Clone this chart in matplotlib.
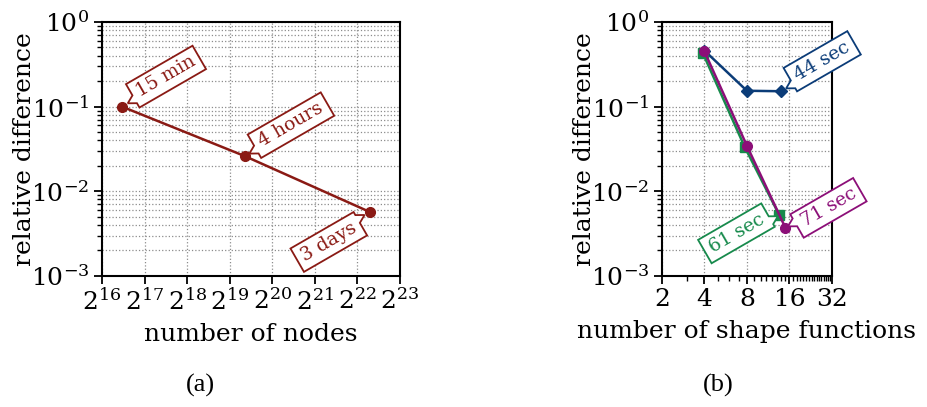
"""Relative difference vs. resolution, two panels with rotated callouts."""
import numpy as np
import matplotlib
matplotlib.use('Agg')
import matplotlib.pyplot as plt
from matplotlib.patches import Polygon
from matplotlib.textpath import TextPath
from matplotlib.font_manager import FontProperties
from matplotlib.transforms import Affine2D, ScaledTranslation
from matplotlib.ticker import FixedLocator, LogLocator, NullLocator, FuncFormatter

plt.rcParams['font.family'] = ['DejaVu Serif']
plt.rcParams['mathtext.fontset'] = 'dejavuserif'

# panel (a): mesh refinement
nodes = [90800, 672000, 5130000]
err_nodes = [0.100, 0.026, 0.0057]
time_nodes = ['15 min', '4 hours', '3 days']

# panel (b): shape functions
shape_blue = [4, 8, 14]
err_blue = [0.46, 0.154, 0.152]
shape_green = [3.9, 7.7, 13.6]
err_green = [0.43, 0.0337, 0.0052]
shape_purple = [4, 8, 15]
err_purple = [0.45, 0.0345, 0.0037]
time_shape = ['44 sec', '61 sec', '71 sec']

red = '#8a1a14'
blue = '#0b3c78'
green = '#178a4c'
purple = '#8c0f78'

DPI = 100
ANGLE = 30
CALLOUT_FS = 13.5


def callout(ax, x, y, text, color, dx, dy):
    """Rotated box at pixel offset (dx, dy) from (x, y), with a small tail."""
    tw = TextPath((0, 0), text, size=CALLOUT_FS,
                  prop=FontProperties(family='DejaVu Serif')).get_extents().width
    w = tw * DPI / 72 + 14
    h = 27
    # data point in the box's own (rotated) frame
    th = np.deg2rad(ANGLE)
    pu = -dx * np.cos(th) - dy * np.sin(th)
    pv = dx * np.sin(th) - dy * np.cos(th)
    side = -1 if pu < 0 else 1
    ex = side * w / 2
    bv = np.clip(pv, -h / 2 + 6, h / 2 - 6)
    vec = np.array([pu - ex, pv - bv])
    tip = tuple(np.array([ex, bv]) + 8 * vec / np.hypot(*vec))
    bl, br, tr, tl = (-w / 2, -h / 2), (w / 2, -h / 2), (w / 2, h / 2), (-w / 2, h / 2)
    if side < 0:
        verts = [bl, br, tr, tl, (ex, bv + 4.5), tip, (ex, bv - 4.5)]
    else:
        verts = [bl, br, (ex, bv - 4.5), tip, (ex, bv + 4.5), tr, tl]
    trans = (Affine2D().rotate_deg(ANGLE).translate(dx, dy)
             + ScaledTranslation(x, y, ax.transData))
    ax.add_artist(Polygon(verts, closed=True, transform=trans, fc='white',
                          ec=color, lw=1.3, zorder=6, clip_on=False))
    ax.annotate(text, xy=(x, y), xytext=(dx, dy), textcoords='offset pixels',
                rotation=ANGLE, rotation_mode='anchor', ha='center', va='center',
                color=color, fontsize=CALLOUT_FS, zorder=7)


def style_axes(ax):
    ax.set_yscale('log')
    ax.set_ylim(1e-3, 1)
    ax.yaxis.set_major_locator(LogLocator(base=10))
    ax.yaxis.set_minor_locator(LogLocator(base=10, subs=np.arange(2, 10)))
    ax.yaxis.set_major_formatter(FuncFormatter(lambda v, p: r'$10^{%d}$' % round(np.log10(v))))
    ax.yaxis.set_minor_formatter(FuncFormatter(lambda v, p: ''))
    ax.grid(which='major', axis='both', ls=':', color='#8c8c8c', lw=0.9)
    ax.grid(which='minor', axis='y', ls=':', color='#8c8c8c', lw=0.9)
    for s in ax.spines.values():
        s.set_linewidth(1.5)
    ax.tick_params(which='major', length=6, width=1.3, labelsize=18, pad=3)
    ax.tick_params(which='minor', length=3.5, width=1.0)
    ax.set_ylabel('relative difference', fontsize=18, labelpad=-4)
    ax.set_axisbelow(True)


fig = plt.figure(figsize=(9.27, 4.07), dpi=DPI)
ax1 = fig.add_axes([0.110, 0.322, 0.3215, 0.624])
ax2 = fig.add_axes([0.714, 0.322, 0.1834, 0.624])

# (a)
ax1.set_xscale('log', base=2)
ax1.set_xlim(2**16, 2**23)
ax1.xaxis.set_major_locator(FixedLocator(2.0 ** np.arange(16, 24)))
ax1.xaxis.set_minor_locator(NullLocator())
ax1.xaxis.set_major_formatter(FuncFormatter(lambda v, p: r'$2^{%d}$' % round(np.log2(v))))
style_axes(ax1)
ax1.plot(nodes, err_nodes, '-o', color=red, lw=1.8, ms=7, zorder=4)
ax1.set_xlabel('number of nodes', fontsize=18, labelpad=6)
callout(ax1, nodes[0], err_nodes[0], time_nodes[0], red, 44, 30)
callout(ax1, nodes[1], err_nodes[1], time_nodes[1], red, 46, 31)
callout(ax1, nodes[2], err_nodes[2], time_nodes[2], red, -41, -30)

# (b)
ax2.set_xscale('log', base=2)
ax2.set_xlim(2, 32)
ax2.xaxis.set_major_locator(FixedLocator([2, 4, 8, 16, 32]))
minor_x = [v for v in np.arange(2, 33) if v not in (2, 4, 8, 16, 32)]
ax2.xaxis.set_minor_locator(FixedLocator(minor_x))
ax2.xaxis.set_major_formatter(FuncFormatter(lambda v, p: '%d' % round(v)))
ax2.xaxis.set_minor_formatter(FuncFormatter(lambda v, p: ''))
style_axes(ax2)
ax2.plot(shape_blue, err_blue, '-D', color=blue, lw=1.8, ms=6.5, zorder=4)
ax2.plot(shape_green, err_green, '-s', color=green, lw=1.8, ms=6.5, zorder=4)
ax2.plot(shape_purple, err_purple, '-o', color=purple, lw=1.8, ms=7, zorder=4)
ax2.set_xlabel('number of shape functions', fontsize=18, labelpad=6)
callout(ax2, shape_blue[-1], err_blue[-1], time_shape[0], blue, 41, 30)
callout(ax2, shape_green[-1], err_green[-1], time_shape[1], green, -43, -18)
callout(ax2, shape_purple[-1], err_purple[-1], time_shape[2], purple, 43, 20)

fig.text(200 / 927, 1 - 385 / 407, '(a)', fontsize=19, family='Liberation Serif',
         ha='center', va='center')
fig.text(718 / 927, 1 - 385 / 407, '(b)', fontsize=19, family='Liberation Serif',
         ha='center', va='center')

fig.savefig('out.png', dpi=DPI)
